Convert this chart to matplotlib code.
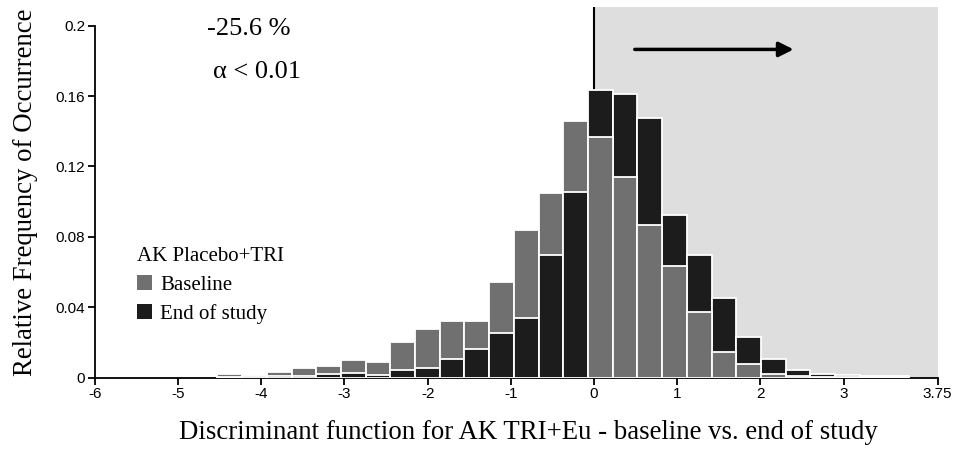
import matplotlib
matplotlib.use("Agg")
import matplotlib.pyplot as plt
from matplotlib.patches import Patch
import numpy as np

# ---- data ----
bin_start = -4.527
bin_width = 0.297
baseline = [0.0020, 0.0008, 0.0030, 0.0054, 0.0067, 0.0099, 0.0089, 0.0205,
            0.0278, 0.0320, 0.0320, 0.0543, 0.0837, 0.1048, 0.1459, 0.1368,
            0.1142, 0.0870, 0.0637, 0.0371, 0.0144, 0.0080, 0.0020, 0.0008,
            0.0003, 0.0002, 0.0001, 0.0001]
end_study = [0.0005, 0.0015, 0.0010, 0.0010, 0.0020, 0.0025, 0.0016, 0.0046,
             0.0054, 0.0106, 0.0161, 0.0252, 0.0339, 0.0699, 0.1054, 0.1633,
             0.1614, 0.1474, 0.0924, 0.0697, 0.0452, 0.0228, 0.0107, 0.0044,
             0.0020, 0.0012, 0.0010, 0.0010]
xtick_labels = ["-6", "-5", "-4", "-3", "-2", "-1", "0", "1", "2", "3", "3.75"]
ytick_values = [0, 0.04, 0.08, 0.12, 0.16, 0.2]
ytick_labels = ["0", "0.04", "0.08", "0.12", "0.16", "0.2"]
x_min, x_end = -6, 4.13

GRAY = "#707070"
BLACK = "#1c1c1c"
SHADE = "#dedede"

serif = ["Liberation Serif", "DejaVu Serif"]
narrow = ["Liberation Sans Narrow", "Liberation Sans", "DejaVu Sans"]

fig = plt.figure(figsize=(9.59, 4.49), dpi=100)
ax = fig.add_axes([0.099, 0.159, 0.8786, 0.825])

baseline = np.array(baseline)
end_study = np.array(end_study)
n = len(baseline)
lefts = bin_start + bin_width * np.arange(n)

# shaded region and vertical line
ax.axvspan(0, x_end, color=SHADE, zorder=0, lw=0)
ax.axvline(0, color="black", lw=1.5, zorder=1)

# taller bar drawn first, shorter in front
tall = np.maximum(baseline, end_study)
short = np.minimum(baseline, end_study)
tall_col = [GRAY if b >= e else BLACK for b, e in zip(baseline, end_study)]
short_col = [BLACK if b >= e else GRAY for b, e in zip(baseline, end_study)]
ax.bar(lefts, tall, width=bin_width, align="edge", color=tall_col,
       edgecolor="white", linewidth=1.3, zorder=2)
ax.bar(lefts, short, width=bin_width, align="edge", color=short_col,
       edgecolor="white", linewidth=1.3, zorder=3)

# arrow
ax.annotate("", xy=(2.40, 0.1865), xytext=(0.49, 0.1865),
            arrowprops=dict(arrowstyle="-|>", lw=2.5, color="black",
                            mutation_scale=22, shrinkA=0, shrinkB=0), zorder=5)

# axes styling
ax.set_xlim(x_min, x_end)
ax.set_ylim(0, 0.2105)
xticks = list(range(-6, 4)) + [x_end]
ax.set_xticks(xticks)
ax.set_xticklabels(xtick_labels, family=narrow, fontsize=11)
ax.set_yticks(ytick_values)
ax.set_yticklabels(ytick_labels, family=narrow, fontsize=11)
for s in ["top", "right"]:
    ax.spines[s].set_visible(False)
ax.spines["left"].set_bounds(0, 0.2)
ax.spines["left"].set_linewidth(1.3)
ax.spines["bottom"].set_linewidth(1.3)
ax.tick_params(axis="both", direction="out", length=5, width=1.3, pad=2)

ax.set_ylabel("Relative Frequency of Occurrence", family=serif, fontsize=19.3, labelpad=13)
ax.set_xlabel("Discriminant function for AK TRI+Eu - baseline vs. end of study",
              family=serif, fontsize=19.3, labelpad=13)
ax.xaxis.set_label_coords(0.514, -0.115)

fig.text(0.216, 0.936, "-25.6 %", family=serif, fontsize=19, ha="left", va="center")
fig.text(0.222, 0.840, "\u03b1 < 0.01", family=serif, fontsize=19, ha="left", va="center")

handles = [Patch(facecolor=GRAY, edgecolor="none"), Patch(facecolor=BLACK, edgecolor="none")]
leg = ax.legend(handles, ["Baseline", "End of study"], title="AK Placebo+TRI",
                loc="upper left", bbox_to_anchor=(0.143, 0.449), bbox_transform=fig.transFigure,
                frameon=False, prop=dict(family=serif, size=15),
                title_fontproperties=dict(family=serif, size=15),
                handlelength=0.72, handleheight=0.72, handletextpad=0.4,
                labelspacing=0.42, borderaxespad=0, borderpad=0)
leg._legend_box.align = "left"

fig.savefig("out.png", dpi=100)
